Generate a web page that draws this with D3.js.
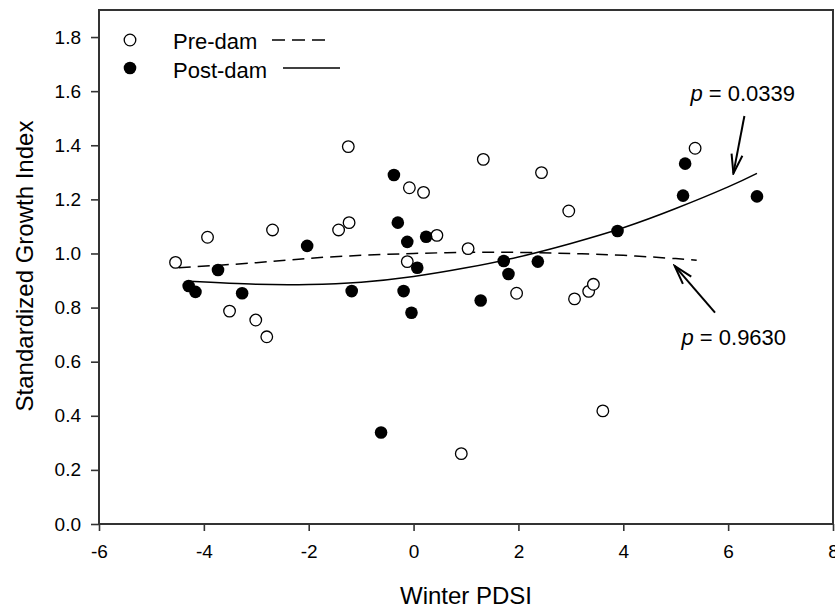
<!DOCTYPE html>
<html>
<head>
<meta charset="utf-8">
<script src="https://cdn.jsdelivr.net/npm/d3@7"></script>
<style>
    body { margin: 0; background: #fff; }
    svg { display: block; font-family: 'Liberation Sans', Arial, sans-serif; }
    .axis text { font-size: 19px; fill: #000; }
    .axis line { stroke: #333; stroke-width: 1.6; }
    .axis .domain { display: none; }
</style>
</head>
<body>
<svg id="chart"></svg>
<script>
/**
 * Data.
 */
// Pre-dam years: [winter PDSI, standardized growth index]
const preDam = [
    [-4.54, 0.967], [-3.93, 1.06], [-3.51, 0.787], [-3.01, 0.754], [-2.80, 0.692],
    [-2.69, 1.087], [-1.43, 1.087], [-1.245, 1.395], [-1.23, 1.114], [-0.12, 0.97],
    [-0.08, 1.243], [0.19, 1.226], [0.445, 1.067], [0.91, 0.26], [1.04, 1.018],
    [1.33, 1.348], [1.965, 0.853], [2.44, 1.299], [2.96, 1.157], [3.07, 0.832],
    [3.34, 0.86], [3.43, 0.886], [3.61, 0.418], [5.37, 1.389]
];

// Post-dam years
const postDam = [
    [-4.29, 0.88], [-4.16, 0.858], [-3.73, 0.939], [-3.27, 0.853], [-2.03, 1.028],
    [-1.18, 0.861], [-0.62, 0.338], [-0.375, 1.29], [-0.30, 1.114], [-0.19, 0.861],
    [-0.12, 1.043], [-0.04, 0.781], [0.07, 0.947], [0.24, 1.062], [1.28, 0.826],
    [1.72, 0.972], [1.81, 0.924], [2.37, 0.97], [3.89, 1.083], [5.14, 1.214],
    [5.18, 1.332], [6.55, 1.211]
];

// Fitted curves, sampled along the drawn lines
const preFit = [
    [-4.48, 0.947], [-3, 0.966], [-2, 0.982], [-1, 0.993], [0, 1.0], [1, 1.004],
    [2, 1.004], [3, 1.0], [4, 0.993], [5, 0.981], [5.4, 0.975]
];
const postFit = [
    [-4.29, 0.897], [-3, 0.886], [-2, 0.885], [-1, 0.894], [0, 0.915], [1, 0.947],
    [2, 0.987], [3, 1.037], [4, 1.095], [5, 1.166], [6, 1.246], [6.55, 1.296]
];

// Annotations: label, label position, arrow start, arrow tip
const notes = [
    { label: '0.0339', at: [5.28, 1.564], from: [6.31, 1.508], to: [6.10, 1.296] },
    { label: '0.9630', at: [5.11, 0.662], from: [5.75, 0.781], to: [4.98, 0.954] }
];

const xTicks = [-6, -4, -2, 0, 2, 4, 6, 8],
    yTicks = [0, 0.2, 0.4, 0.6, 0.8, 1.0, 1.2, 1.4, 1.6, 1.8];

/**
 * Visual configs.
 */
const visWidth = 835, visHeight = 607;
const margin = { top: 10, right: 2, bottom: 83, left: 99 };
const width = visWidth - margin.left - margin.right,
    height = visHeight - margin.top - margin.bottom;

/**
 * D3.
 */
const xScale = d3.scaleLinear().domain([-6, 8]).range([0, width]),
    yScale = d3.scaleLinear().domain([0, 1.9]).range([height, 0]),
    xAxis = d3.axisBottom(xScale).tickValues(xTicks).tickFormat(d => String(d))
        .tickSize(7).tickSizeOuter(0).tickPadding(14),
    yAxis = d3.axisLeft(yScale).tickValues(yTicks).tickFormat(d => d.toFixed(1))
        .tickSize(8).tickSizeOuter(0).tickPadding(10),
    line = d3.line().x(d => xScale(d[0])).y(d => yScale(d[1])).curve(d3.curveNatural);

const svg = d3.select('#chart').attr('width', visWidth).attr('height', visHeight);

// Arrow head
svg.append('defs').append('marker')
    .attr('id', 'head')
    .attr('markerUnits', 'userSpaceOnUse')
    .attr('viewBox', '-20 -8 22 16')
    .attr('markerWidth', 22).attr('markerHeight', 16)
    .attr('refX', 0).attr('refY', 0)
    .attr('orient', 'auto')
    .append('path')
        .attr('d', 'M-19,-5.5L0,0L-19,5.5')
        .attr('fill', 'none')
        .attr('stroke', '#000')
        .attr('stroke-width', 2);

const visContainer = svg.append('g')
    .attr('transform', 'translate(' + margin.left + ',' + margin.top + ')');

/**
 * Axes.
 */
visContainer.append('g').attr('class', 'axis x-axis')
    .attr('transform', 'translate(0,' + height + ')')
    .call(xAxis);
visContainer.append('g').attr('class', 'axis y-axis')
    .call(yAxis);

// Frame
visContainer.append('rect')
    .attr('width', width).attr('height', height)
    .attr('fill', 'none').attr('stroke', '#333').attr('stroke-width', 2);

// Axis titles
svg.append('text')
    .attr('x', margin.left + width / 2).attr('y', 604)
    .attr('text-anchor', 'middle').attr('font-size', 24)
    .text('Winter PDSI');
svg.append('text')
    .attr('transform', 'translate(33,' + (margin.top + height / 2 - 1) + ') rotate(-90)')
    .attr('text-anchor', 'middle').attr('font-size', 24)
    .text('Standardized Growth Index');

/**
 * Fitted curves.
 */
visContainer.append('path').datum(preFit)
    .attr('d', line)
    .attr('fill', 'none').attr('stroke', '#000').attr('stroke-width', 1.5)
    .attr('stroke-dasharray', '12,7');
visContainer.append('path').datum(postFit)
    .attr('d', line)
    .attr('fill', 'none').attr('stroke', '#000').attr('stroke-width', 1.5);

/**
 * Points.
 */
visContainer.append('g').selectAll('circle').data(preDam)
    .enter().append('circle')
        .attr('cx', d => xScale(d[0]))
        .attr('cy', d => yScale(d[1]))
        .attr('r', 5.8)
        .attr('fill', '#fff').attr('stroke', '#000').attr('stroke-width', 1.3);
visContainer.append('g').selectAll('circle').data(postDam)
    .enter().append('circle')
        .attr('cx', d => xScale(d[0]))
        .attr('cy', d => yScale(d[1]))
        .attr('r', 6.3)
        .attr('fill', '#000');

/**
 * Annotations.
 */
notes.forEach(n => {
    visContainer.append('line')
        .attr('x1', xScale(n.from[0])).attr('y1', yScale(n.from[1]))
        .attr('x2', xScale(n.to[0])).attr('y2', yScale(n.to[1]))
        .attr('stroke', '#000').attr('stroke-width', 2)
        .attr('marker-end', 'url(#head)');
    const t = visContainer.append('text')
        .attr('x', xScale(n.at[0])).attr('y', yScale(n.at[1]))
        .attr('font-size', 22);
    t.append('tspan').attr('font-style', 'italic').text('p');
    t.append('tspan').text(' = ' + n.label);
});

/**
 * Legend.
 */
const legend = svg.append('g').attr('font-size', 22);
legend.append('circle').attr('cx', 130).attr('cy', 40).attr('r', 5.8)
    .attr('fill', '#fff').attr('stroke', '#000').attr('stroke-width', 1.3);
legend.append('circle').attr('cx', 130).attr('cy', 68).attr('r', 6.3)
    .attr('fill', '#000');
legend.append('text').attr('x', 173).attr('y', 49).text('Pre-dam');
legend.append('text').attr('x', 173).attr('y', 77.5).text('Post-dam');
legend.append('line').attr('x1', 272).attr('x2', 326).attr('y1', 40).attr('y2', 40)
    .attr('stroke', '#000').attr('stroke-width', 1.5).attr('stroke-dasharray', '13,7');
legend.append('line').attr('x1', 283).attr('x2', 340).attr('y1', 68).attr('y2', 68)
    .attr('stroke', '#000').attr('stroke-width', 1.5);
</script>
</body>
</html>
